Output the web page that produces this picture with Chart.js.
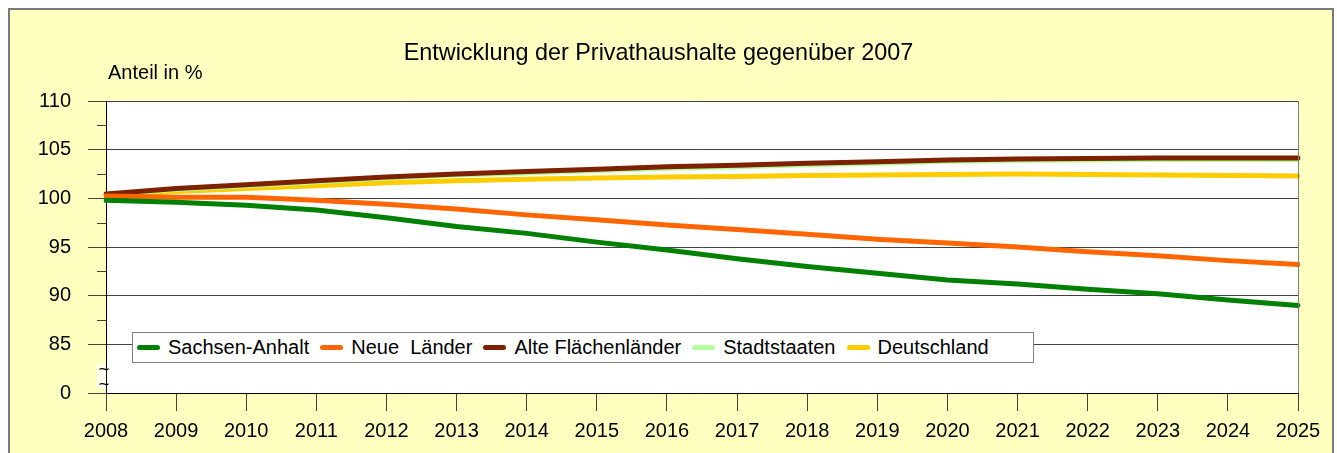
<!DOCTYPE html>
<html>
<head>
<meta charset="utf-8">
<script src="https://cdn.jsdelivr.net/npm/chart.js@4"></script>
<style>
    body { margin: 0; background: #ffffff; font-family: "Liberation Sans", Arial, sans-serif; }
    #wrap { position: relative; width: 1337px; height: 453px; overflow: hidden; }
    #frame { position: absolute; left: 8px; top: 8px; width: 1322px; height: 470px;
             border: 2px solid #7a7a7a; background: #ffffc0; }
    canvas { position: absolute; left: 0; top: 0; }
    .txt { position: absolute; line-height: 1; color: #000; white-space: pre; }
    #title { left: 0; width: 1317px; top: 41px; font-size: 23.4px; text-align: center; }
    #yLabel { left: 108px; top: 62px; font-size: 20px; }
    #legend { position: absolute; left: 132px; top: 332px; width: 900px; height: 29px;
              border: 1px solid #808080; background: #fff; display: flex; align-items: center;
              font-size: 20px; }
    .item { display: flex; align-items: center; margin-left: 4px; margin-right: 7px; white-space: pre; }
    .swatch { width: 23px; height: 5px; border-radius: 3px; margin-right: 8px; }
</style>
</head>
<body>
<div id="wrap">
    <div id="frame"></div>
    <canvas id="chart" width="1337" height="453"></canvas>
    <div id="title" class="txt">Entwicklung der Privathaushalte gegenüber 2007</div>
    <div id="yLabel" class="txt">Anteil in %</div>
    <div id="legend"></div>
</div>
<script>
// Data (index, 2007 = 100)
const years = ["2008", "2009", "2010", "2011", "2012", "2013", "2014", "2015", "2016",
               "2017", "2018", "2019", "2020", "2021", "2022", "2023", "2024", "2025"];
const sachsenAnhalt = [99.8, 99.6, 99.3, 98.8, 98.0, 97.1, 96.4, 95.5, 94.7,
                       93.8, 93.0, 92.3, 91.6, 91.2, 90.65, 90.2, 89.55, 89.0];
const neueLaender = [100.25, 100.1, 100.1, 99.8, 99.4, 98.9, 98.3, 97.8, 97.25,
                     96.8, 96.3, 95.8, 95.4, 95.0, 94.5, 94.1, 93.6, 93.2];
const alteFlaechenlaender = [100.45, 101.0, 101.4, 101.8, 102.2, 102.5, 102.75, 103.0, 103.25,
                             103.4, 103.6, 103.75, 103.95, 104.05, 104.1, 104.15, 104.15, 104.15];
const stadtstaaten = [100.4, 100.9, 101.3, 101.7, 102.1, 102.4, 102.6, 102.85, 103.1,
                      103.25, 103.45, 103.6, 103.8, 103.9, 103.95, 104.0, 104.0, 104.0];
const deutschland = [100.3, 100.7, 101.0, 101.3, 101.6, 101.8, 101.95, 102.1, 102.2,
                     102.25, 102.35, 102.4, 102.45, 102.5, 102.45, 102.4, 102.35, 102.3];

const seriesNames = ["Sachsen-Anhalt", "Neue  Länder", "Alte Flächenländer", "Stadtstaaten", "Deutschland"];
const seriesData = [sachsenAnhalt, neueLaender, alteFlaechenlaender, stadtstaaten, deutschland];
const seriesColors = ["#008000", "#ff6600", "#7e2100", "#b3ff99", "#ffcc00"];

const yMin = 80, yMax = 110, yStep = 5; // 80 is shown as "0" (broken axis)

// HTML legend built from the series arrays
const legendBox = document.getElementById("legend");
seriesNames.forEach((name, i) => {
    legendBox.insertAdjacentHTML("beforeend",
        `<div class="item"><span class="swatch" style="background:${seriesColors[i]}"></span>${name}</div>`);
});

const font = { family: "'Liberation Sans', Arial, sans-serif", size: 20 };

// white plot area, frame, minor ticks and the axis break mark
const plotDecor = {
    id: "plotDecor",
    beforeDraw(chart) {
        const { ctx, chartArea: a } = chart;
        ctx.save();
        ctx.fillStyle = "#ffffff";
        ctx.fillRect(a.left, a.top, a.right - a.left, a.bottom - a.top);
        ctx.restore();
    },
    afterDraw(chart) {
        const { ctx, chartArea: a, scales } = chart;
        const y = scales.y;
        ctx.save();
        // right edge of plot
        ctx.strokeStyle = "#808080";
        ctx.lineWidth = 1;
        ctx.beginPath();
        ctx.moveTo(a.right + 0.5, a.top);
        ctx.lineTo(a.right + 0.5, a.bottom);
        ctx.stroke();
        // minor ticks between the labelled values
        ctx.strokeStyle = "#404040";
        for (let v = 85 + yStep / 2; v < yMax; v += yStep) {
            const py = Math.round(y.getPixelForValue(v)) + 0.5;
            ctx.beginPath();
            ctx.moveTo(a.left - 9, py);
            ctx.lineTo(a.left, py);
            ctx.stroke();
        }
        // axis break
        const b1 = y.getPixelForValue(82.5), b2 = y.getPixelForValue(80.9);
        ctx.fillStyle = "#fffff4";
        ctx.fillRect(a.left - 9, b1 - 4, 9, b2 - b1 + 8);
        ctx.fillStyle = "#000";
        ctx.font = "19px 'Liberation Sans', Arial, sans-serif";
        ctx.textAlign = "center";
        ctx.textBaseline = "middle";
        ctx.fillText("~", a.left - 2, b1 + 1);
        ctx.fillText("~", a.left - 2, b2 + 1);
        ctx.restore();
    }
};

new Chart(document.getElementById("chart"), {
    type: "line",
    data: {
        labels: years,
        datasets: seriesNames.map((name, i) => ({
            label: name,
            data: seriesData[i],
            borderColor: seriesColors[i],
            backgroundColor: seriesColors[i],
            borderWidth: 5,
            borderCapStyle: "round",
            borderJoinStyle: "round",
            pointRadius: 0,
            tension: 0,
            fill: false
        }))
    },
    options: {
        responsive: false,
        animation: false,
        layout: { padding: { top: 101, right: 39, left: 0, bottom: 0 } },
        plugins: {
            legend: { display: false },
            title: { display: false },
            tooltip: { enabled: false }
        },
        scales: {
            x: {
                type: "category",
                offset: false,
                afterFit(scale) { scale.height = 60; },
                border: { color: "#000", width: 1 },
                grid: { drawOnChartArea: false, tickLength: 18, color: "#404040" },
                ticks: { font, color: "#000", padding: 8, autoSkip: false, maxRotation: 0 }
            },
            y: {
                min: yMin,
                max: yMax,
                afterFit(scale) { scale.width = 106; },
                border: { color: "#000", width: 1 },
                grid: { tickLength: 18, color: "#404040", lineWidth: 1 },
                ticks: {
                    stepSize: yStep,
                    font,
                    color: "#000",
                    padding: 17,
                    callback: (v) => (v === yMin ? "0" : String(v))
                }
            }
        }
    },
    plugins: [plotDecor]
});
</script>
</body>
</html>
